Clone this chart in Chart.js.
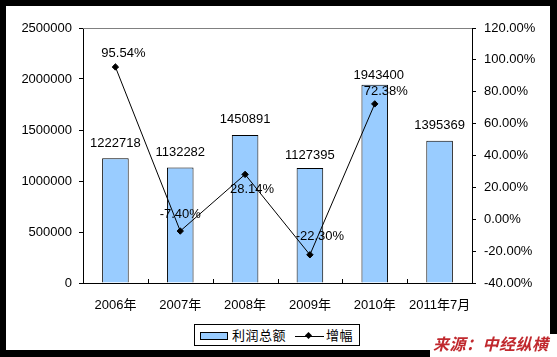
<!DOCTYPE html>
<html>
<head>
<meta charset="utf-8">
<script src="https://cdn.jsdelivr.net/npm/chart.js@4/dist/chart.umd.min.js"></script>
<style>
  html, body { margin:0; padding:0; }
  body { width:557px; height:357px; background:#000; position:relative; overflow:hidden;
         font-family:"Liberation Sans", Arial, "Noto Sans CJK SC", sans-serif; }
  #panel { position:absolute; left:6px; top:6px; width:544px; height:344px; background:#fff; }
  #wrap { position:absolute; left:0; top:0; width:557px; height:357px; }
  #legend { position:absolute; left:194px; top:324px; width:164px; height:20px; border:1px solid #000;
            background:#fff; font-size:13px; color:#000; font-family:"Noto Sans CJK SC", sans-serif; }
  #legend .sw { position:absolute; left:5px; top:7px; width:26px; height:6px; background:#99CCFF; border:1px solid #000; }
  #legend .t1 { position:absolute; left:37px; top:1px; line-height:18px; letter-spacing:0.5px; }
  #legend .ln { position:absolute; left:100px; top:11px; width:29px; height:1px; background:#000; }
  #legend .dm { position:absolute; left:111px; top:8px; width:5px; height:5px; background:#000; transform:rotate(45deg); }
  #legend .t2 { position:absolute; left:131px; top:1px; line-height:18px; letter-spacing:0.5px; }
  #srcbg { position:absolute; left:430px; top:334px; width:127px; height:23px; background:#fff; }
  #src { position:absolute; left:433px; top:334px; font-size:16px; font-weight:bold; font-style:italic;
         color:#C0282D; font-family:"Noto Sans CJK SC", sans-serif; line-height:18px; letter-spacing:0.5px; }
</style>
</head>
<body>
<div id="panel"></div>
<div id="wrap"><canvas id="c" width="557" height="357"></canvas></div>
<div id="legend"><div class="sw"></div><div class="t1">利润总额</div><div class="ln"></div><div class="dm"></div><div class="t2">增幅</div></div>
<div id="srcbg"></div>
<div id="src">来源：中经纵横</div>
<script>
const categories = ['2006年', '2007年', '2008年', '2009年', '2010年', '2011年7月'];
const profitTotals = [1222718, 1132282, 1450891, 1127395, 1943400, 1395369];
const growthRates = [95.54, -7.40, 28.14, -22.30, 72.38, null];
const growthLabels = ['95.54%', '-7.40%', '28.14%', '-22.30%', '72.38%', ''];
const profitTickRange = { min: 0, max: 2500000, step: 500000 };
const growthTickRange = { min: -40, max: 120, step: 20 };
const seriesNames = ['利润总额', '增幅'];

// label placement styles (offsets in px from the mark)
const growthLabelOffsets = [[8, -14], [0, -17], [7, 15], [10, -18], [11, -12], [0, 0]];
const barLabelOffsets = [[0, -15], [0, -15], [0, -16], [0, -13], [4, -9], [0, -15]];

const FONT = '"Liberation Sans", Arial, "Noto Sans CJK SC", sans-serif';

const decorPlugin = {
  id: 'decor',
  afterDatasetsDraw(chart) {
    const ctx = chart.ctx;
    const a = chart.chartArea;
    const xs = chart.scales.x;
    ctx.save();
    // grey top border of plot area
    ctx.strokeStyle = '#808080';
    ctx.lineWidth = 1;
    ctx.beginPath();
    ctx.moveTo(a.left, a.top + 0.5);
    ctx.lineTo(a.right, a.top + 0.5);
    ctx.stroke();
    // inside tick marks at category boundaries
    ctx.strokeStyle = '#000';
    for (let i = 1; i < categories.length; i++) {
      const x = Math.round(xs.getPixelForValue(i - 0.5)) + 0.5;
      ctx.beginPath();
      ctx.moveTo(x, a.bottom);
      ctx.lineTo(x, a.bottom - 4);
      ctx.stroke();
    }
    // data labels
    ctx.font = '13px ' + FONT;
    ctx.fillStyle = '#000';
    ctx.textAlign = 'center';
    ctx.textBaseline = 'middle';
    const barMeta = chart.getDatasetMeta(0);
    barMeta.data.forEach((el, i) => {
      const o = barLabelOffsets[i];
      ctx.fillText(String(profitTotals[i]), el.x + o[0], el.y + o[1]);
    });
    const lineMeta = chart.getDatasetMeta(1);
    lineMeta.data.forEach((el, i) => {
      if (growthRates[i] === null) return;
      const o = growthLabelOffsets[i];
      ctx.fillText(growthLabels[i], el.x + o[0], el.y + o[1]);
    });
    ctx.restore();
  }
};

new Chart(document.getElementById('c'), {
  data: {
    labels: categories,
    datasets: [
      {
        type: 'bar',
        label: seriesNames[0],
        data: profitTotals,
        yAxisID: 'y',
        backgroundColor: '#99CCFF',
        borderColor: '#000',
        borderWidth: 1,
        barPercentage: 0.41,
        categoryPercentage: 1,
        order: 2
      },
      {
        type: 'line',
        label: seriesNames[1],
        data: growthRates,
        yAxisID: 'y1',
        borderColor: '#000',
        borderWidth: 1,
        pointStyle: 'rectRot',
        pointRadius: 3.2,
        pointBackgroundColor: '#000',
        pointBorderColor: '#000',
        pointBorderWidth: 1,
        tension: 0,
        spanGaps: false,
        order: 1
      }
    ]
  },
  options: {
    responsive: false,
    animation: false,
    devicePixelRatio: 1,
    layout: { padding: { top: 28, left: 0, right: 0, bottom: 0 } },
    plugins: { legend: { display: false }, tooltip: { enabled: false } },
    scales: {
      x: {
        offset: true,
        grid: { display: false, drawTicks: false },
        border: { color: '#000', width: 1 },
        ticks: { color: '#000', font: { size: 13, family: FONT }, padding: 15, maxRotation: 0, autoSkip: false },
        afterFit(s) { s.height = 74; }
      },
      y: {
        position: 'left',
        min: profitTickRange.min, max: profitTickRange.max,
        grid: { drawOnChartArea: false, drawTicks: true, tickLength: 4, color: '#000' },
        border: { color: '#000', width: 1 },
        ticks: { stepSize: profitTickRange.step, color: '#000', font: { size: 13, family: FONT }, padding: 7,
                 callback: v => String(v) },
        afterFit(s) { s.width = 83; }
      },
      y1: {
        position: 'right',
        min: growthTickRange.min, max: growthTickRange.max,
        grid: { drawOnChartArea: false, drawTicks: true, tickLength: 4, color: '#000' },
        border: { color: '#000', width: 1 },
        ticks: { stepSize: growthTickRange.step, color: '#000', font: { size: 13, family: FONT }, padding: 8,
                 callback: v => v.toFixed(2) + '%' },
        afterFit(s) { s.width = 85; }
      }
    }
  },
  plugins: [decorPlugin]
});
</script>
</body>
</html>
